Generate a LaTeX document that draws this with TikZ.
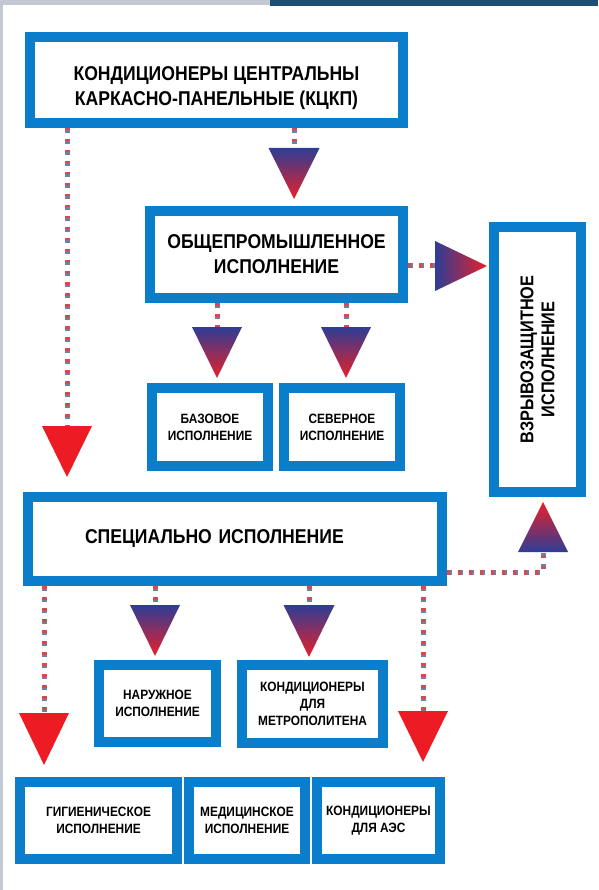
\documentclass[tikz,border=0pt]{standalone}
\usepackage{fontspec}
\setmainfont{Liberation Sans}[FakeStretch=0.88]
\usetikzlibrary{positioning}

\definecolor{boxblue}{HTML}{0A7DCB}
\definecolor{tipblue}{HTML}{2E3D96}
\definecolor{tipred}{HTML}{E8202A}
\definecolor{redtipcol}{HTML}{ED1C24}
\definecolor{dotred}{HTML}{D8484C}
\definecolor{dotblue}{HTML}{6E7FA6}
\definecolor{stripgray}{HTML}{C3C9D2}
\definecolor{stripdark}{HTML}{1D4F72}

\begin{document}
\begin{tikzpicture}[
    x=1pt, y=-1pt,
    box/.style={draw=boxblue, line width=10pt, fill=white, align=center, inner sep=0pt, outer sep=5pt, font=\bfseries\fontsize{20}{25}\selectfont},
    smalltext/.style={font=\bfseries\fontsize{13.5}{17}\selectfont},
    dots/.style={line width=5pt, draw=dotred, dash pattern=on 2.5pt off 8.5pt,
        postaction={draw=dotblue, line width=5pt, dash pattern=on 0pt off 2.5pt on 2.5pt off 6pt}},
    fade down/.style={top color=tipblue, bottom color=tipred},
    fade up/.style={top color=tipred, bottom color=tipblue},
    fade right/.style={left color=tipblue, right color=tipred},
    redtip/.style={fill=redtipcol}
]
    \useasboundingbox (0,0) rectangle (598,890);
    \fill[white] (0,0) rectangle (598,890);
    \fill[stripgray] (0,0) rectangle (270,5);
    \fill[stripdark] (270,0) rectangle (598,6);
    \fill[stripgray] (0,0) rectangle (3,890);

    % boxes
    \node[box, minimum width=373pt, minimum height=86pt, text height=56pt, text depth=5pt] (kckp) at (216.5,80) {КОНДИЦИОНЕРЫ ЦЕНТРАЛЬНЫ\\КАРКАСНО-ПАНЕЛЬНЫЕ (КЦКП)};
    \node[box, minimum width=253pt, minimum height=87pt] (obsh) at (276.5,254.5) {ОБЩЕПРОМЫШЛЕННОЕ\\ИСПОЛНЕНИЕ};
    \node[box, rotate=90, minimum width=265pt, minimum height=87pt, font=\bfseries\fontsize{18.5}{21}\selectfont] (vzryv) at (537.5,359.5) {ВЗРЫВОЗАЩИТНОЕ\\ИСПОЛНЕНИЕ};
    \node[box, smalltext, minimum width=116pt, minimum height=78pt] (baz) at (210,427) {БАЗОВОЕ\\ИСПОЛНЕНИЕ};
    \node[box, smalltext, minimum width=116pt, minimum height=78pt, right=6pt of baz] (sev) {СЕВЕРНОЕ\\ИСПОЛНЕНИЕ};
    \node[box, minimum width=414pt, minimum height=84pt, text width=300pt, align=left] (spec) at (235,539) {СПЕЦИАЛЬНО ИСПОЛНЕНИЕ};
    \node[box, smalltext, minimum width=117pt, minimum height=77pt] (nar) at (157.5,703.5) {НАРУЖНОЕ\\ИСПОЛНЕНИЕ};
    \node[box, smalltext, minimum width=141pt, minimum height=78pt] (metro) at (312.5,704) {КОНДИЦИОНЕРЫ\\ДЛЯ\\МЕТРОПОЛИТЕНА};
    \node[box, smalltext, minimum width=157pt, minimum height=77pt] (gig) at (98.5,820.5) {ГИГИЕНИЧЕСКОЕ\\ИСПОЛНЕНИЕ};
    \node[box, smalltext, minimum width=116pt, minimum height=77pt, right=2pt of gig] (med) {МЕДИЦИНСКОЕ\\ИСПОЛНЕНИЕ};
    \node[box, smalltext, minimum width=123pt, minimum height=77pt, right=2pt of med] (aes) {КОНДИЦИОНЕРЫ\\ДЛЯ АЭС};

    % arrow tips
    \coordinate (t1) at (294,199);
    \coordinate (t2) at (67,477);
    \coordinate (t3) at (487,266);
    \coordinate (t4) at (217,378);
    \coordinate (t5) at (346,378);
    \coordinate (t6) at (543,502);
    \coordinate (t7) at (44,765);
    \coordinate (t8) at (155,656);
    \coordinate (t9) at (309,657);
    \coordinate (t10) at (423,762);

    % connectors
    \draw[dots, shorten >=51pt] (kckp.south -| t1) -- (t1);
    \draw[dots, shorten >=51pt] (kckp.south -| t2) -- (t2);
    \draw[dots, shorten >=52pt] (obsh.east |- t3) -- (t3);
    \draw[dots, shorten >=51pt] (obsh.south -| t4) -- (t4);
    \draw[dots, shorten >=51pt] (obsh.south -| t5) -- (t5);
    \draw[dots, shorten >=50pt] ([yshift=-33pt]spec.east) -| (t6);
    \draw[dots, shorten >=52pt] (spec.south -| t7) -- (t7);
    \draw[dots, shorten >=51pt] (spec.south -| t8) -- (t8);
    \draw[dots, shorten >=52pt] (spec.south -| t9) -- (t9);
    \draw[dots, shorten >=51pt] (spec.south -| t10) -- (t10);

    \shade[fade down] (t1) -- ++(-25.5,-51) -- ++(51,0) -- cycle;
    \fill[redtip] (t2) -- ++(-25,-51) -- ++(50,0) -- cycle;
    \shade[fade right] (t3) -- ++(-52,-25) -- ++(0,50) -- cycle;
    \shade[fade down] (t4) -- ++(-25,-51) -- ++(50,0) -- cycle;
    \shade[fade down] (t5) -- ++(-25,-51) -- ++(50,0) -- cycle;
    \shade[fade up] (t6) -- ++(-25,50) -- ++(50,0) -- cycle;
    \fill[redtip] (t7) -- ++(-25,-52) -- ++(50,0) -- cycle;
    \shade[fade down] (t8) -- ++(-25,-51) -- ++(50,0) -- cycle;
    \shade[fade down] (t9) -- ++(-25.5,-52) -- ++(51,0) -- cycle;
    \fill[redtip] (t10) -- ++(-25,-51) -- ++(50,0) -- cycle;
\end{tikzpicture}
\end{document}
